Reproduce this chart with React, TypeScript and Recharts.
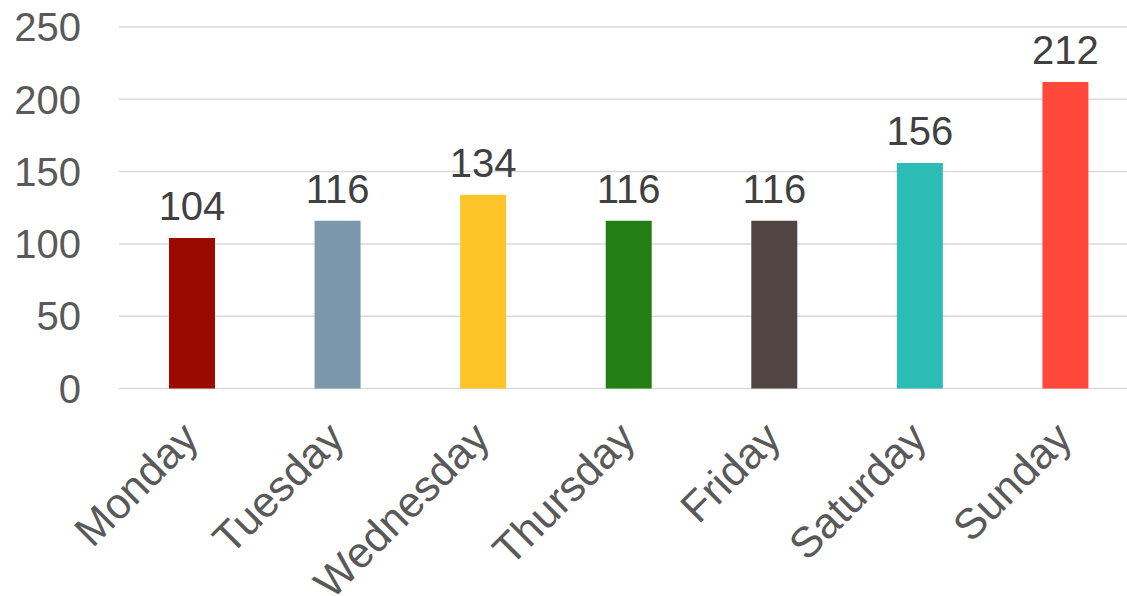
import React from "react";
import { Bar, BarChart, CartesianGrid, Cell, LabelList, XAxis, YAxis } from "recharts";

const days = ["Monday", "Tuesday", "Wednesday", "Thursday", "Friday", "Saturday", "Sunday"];
const visits = [104, 116, 134, 116, 116, 156, 212];
const barColors = ["#9b0a00", "#7a97ac", "#fdc52a", "#237e13", "#504543", "#2dbcb5", "#ff473a"];
const yTicks = [0, 50, 100, 150, 200, 250];

const data = days.map((day, i) => ({ day, value: visits[i] }));

const FONT = "'Liberation Sans', Arial, sans-serif";

function DayTick({ x, y, payload }: any) {
  return (
    <g transform={`translate(${x + 9}, ${y + 44}) rotate(-45)`}>
      <text textAnchor="end" fill="#595959" fontSize={43} fontFamily={FONT}>
        {payload.value}
      </text>
    </g>
  );
}

export default function App() {
  return (
    <div style={{ position: "fixed", top: 0, left: 0, width: 1127, height: 596, overflow: "hidden", background: "#fff" }}>
      <BarChart
        width={1138}
        height={596}
        data={data}
        margin={{ top: 27, right: 0, left: 0, bottom: 0 }}
        barSize={46}
      >
        <CartesianGrid vertical={false} stroke="#d9d9d9" strokeWidth={1.5} />
        <XAxis
          dataKey="day"
          height={207.5}
          axisLine={false}
          tickLine={false}
          interval={0}
          tick={<DayTick />}
        />
        <YAxis
          width={119}
          domain={[0, 250]}
          ticks={yTicks}
          axisLine={false}
          tickLine={false}
          tickMargin={32}
          tick={{ fill: "#595959", fontSize: 40, fontFamily: FONT }}
        />
        <Bar dataKey="value" isAnimationActive={false}>
          {data.map((d, i) => (
            <Cell key={d.day} fill={barColors[i]} />
          ))}
          <LabelList
            dataKey="value"
            position="top"
            offset={18}
            fill="#404040"
            fontSize={40}
            fontFamily={FONT}
          />
        </Bar>
      </BarChart>
    </div>
  );
}
